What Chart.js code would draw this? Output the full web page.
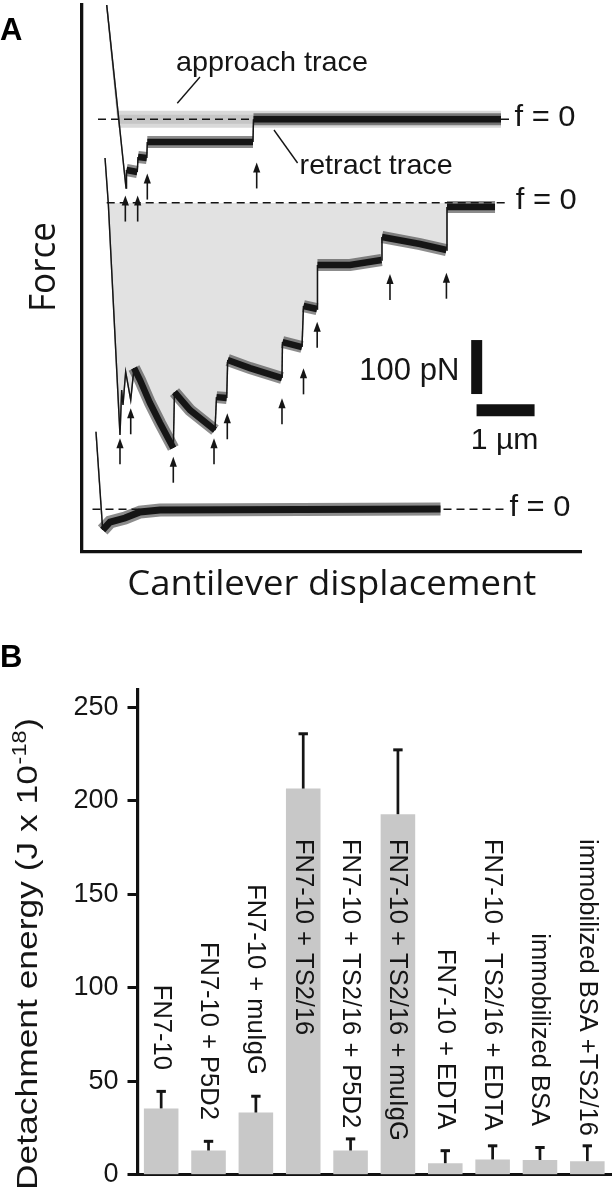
<!DOCTYPE html>
<html>
<head>
<meta charset="utf-8">
<script src="https://cdn.jsdelivr.net/npm/chart.js@4.4.1/dist/chart.umd.min.js"></script>
<style>
  html, body { margin: 0; padding: 0; background: #ffffff; }
  #wrapA { position: absolute; left: 0; top: 0; width: 614px; height: 640px; }
  #wrapB { position: absolute; left: 0; top: 640px; width: 614px; height: 560px; }
</style>
</head>
<body>
<div id="wrapA"><canvas id="chartA"></canvas></div>
<div id="wrapB"><canvas id="chartB"></canvas></div>
<script>
// ================= Panel A data =================
// x: cantilever displacement (µm); F: force (pN) relative to each trace's own f = 0 line
const approachX = [0.426, 0.621, 7.224];
const approachF = [211.7, 0, 0];

const retract1X = [0.426, 0.759, 0.767, 0.953, 0.966, 1.117, 1.126, 2.948, 2.957, 7.224];
const retract1F = [211.7, -127.2, -93.9, -97.6, -69.8, -71.7, -42.0, -42.0, 0, 0];

const retract2X = [0.397, 0.453, 0.655, 0.684, 0.707, 0.753, 0.840, 0.897, 1.000, 1.172, 1.345, 1.574,
                   1.595, 1.862, 2.293, 2.319, 2.495, 2.512, 2.897, 3.448, 3.457, 3.793, 3.819, 4.052,
                   4.060, 4.621, 5.164, 5.172, 5.828, 6.283, 6.293, 7.121];
const retract2F = [82.8, -0.6, -430.2, -346.9, -374.7, -313.5, -365.4, -306.1, -328.4, -371.0, -408.0, -454.3,
                   -350.6, -384.0, -421.1, -360.0, -361.8, -291.3, -306.2, -324.7, -258.0, -267.3, -191.3, -196.9,
                   -115.4, -115.4, -106.1, -63.5, -76.5, -87.6, -8.0, -8.0];

const retract3X = [0.241, 0.357, 0.483, 0.741, 1.000, 1.345, 6.181];
const retract3F = [143.7, -38.3, -23.5, -16.1, -5.0, -1.3, 0.6];

// rupture arrows (x, tip force relative to trace zero)
const arrows1X = [0.747, 0.960, 1.126, 3.012];
const arrows1F = [-141.2, -141.2, -100.5, -79.9];
const arrows2X = [0.655, 0.840, 1.574, 2.276, 2.505, 3.448, 3.819, 4.055, 5.310, 6.283];
const arrows2F = [-436.1, -380.7, -470.4, -436.1, -389.9, -362.2, -306.7, -220.4, -132.2, -129.6];

// f = 0 reference lines (x extent)
const zeroLineStart = [0.276, 0.426, 0.181];
const zeroLineEnd   = [7.362, 7.345, 7.328];

// scale bars: 100 pN and 1 µm
const barPN_X = [6.805, 6.805];
const barPN_Y = [292, 392];
const barUM_X = [6.803, 7.803];
const barUM_Y = [261.9, 261.9];

// ================= Panel B data =================
const categories = [
  'FN7-10', 'FN7-10 + P5D2', 'FN7-10 + muIgG', 'FN7-10 + TS2/16', 'FN7-10 + TS2/16 + P5D2',
  'FN7-10 + TS2/16 + muIgG', 'FN7-10 + EDTA', 'FN7-10 + TS2/16 + EDTA', 'immobilized BSA', 'immobilized BSA +TS2/16'
];
const energy = [35.5, 13.0, 33.3, 206.5, 13.0, 192.8, 6.2, 8.2, 7.9, 7.3];
const energyErr = [9.9, 5.7, 9.5, 30.1, 7.0, 35.2, 7.5, 8.1, 7.5, 9.0];
const yTicksB = [0, 50, 100, 150, 200, 250];

// ================= layout / style constants =================
const TRACE_ZERO = [800.8, 646.3, 78.5];   // where each trace's f = 0 sits on the stacked force axis
const SANS = '"Liberation Sans", Arial, Helvetica, sans-serif';
const HUMAN = '"Open Sans", "Noto Sans", sans-serif';
const INK = '#151515';

function pts(xs, fs, off) { return xs.map((x, i) => ({ x: x, y: off + fs[i] })); }

function drawText(ctx, s, x, y, o) {
  ctx.save();
  ctx.translate(x, y);
  if (o.rot) ctx.rotate(o.rot);
  ctx.font = o.font;
  ctx.textAlign = o.align || 'left';
  ctx.textBaseline = o.baseline || 'alphabetic';
  ctx.fillStyle = o.color || INK;
  if (o.fit) { const w = ctx.measureText(s).width; ctx.scale(o.fit / w, 1); }
  ctx.fillText(s, 0, 0);
  ctx.restore();
}

function thinSteep(wide) {
  return function (c) {
    const dx = Math.abs(c.p1.x - c.p0.x), dy = Math.abs(c.p1.y - c.p0.y);
    return (dy > 12 && dy > 3 * dx) ? 1.4 : wide;
  };
}

function traceDS(xs, fs, off, color, width, order) {
  return {
    data: pts(xs, fs, off),
    borderColor: color,
    borderWidth: width,
    pointRadius: 0,
    tension: 0,
    clip: false,
    fill: false,
    order: order,
    segment: { borderWidth: thinSteep(width) }
  };
}

function dashDS(i) {
  return {
    data: [{ x: zeroLineStart[i], y: TRACE_ZERO[i] }, { x: zeroLineEnd[i], y: TRACE_ZERO[i] }],
    borderColor: INK, borderWidth: 1.6, borderDash: [8, 5],
    pointRadius: 0, fill: false, order: 4, clip: false
  };
}

// ================= Panel A chart =================
const annotA = {
  id: 'annotA',
  afterDatasetsDraw(chart) {
    const ctx = chart.ctx, xs = chart.scales.x, ys = chart.scales.y;
    const X = v => xs.getPixelForValue(v), Y = v => ys.getPixelForValue(v);
    ctx.save();
    ctx.strokeStyle = INK; ctx.fillStyle = INK;
    function arrow(x, f, off) {
      const px = X(x), py = Y(off + f);
      ctx.lineWidth = 1.6;
      ctx.beginPath(); ctx.moveTo(px, py + 6); ctx.lineTo(px, py + 26); ctx.stroke();
      ctx.beginPath(); ctx.moveTo(px, py); ctx.lineTo(px - 3.6, py + 10); ctx.lineTo(px + 3.6, py + 10); ctx.closePath(); ctx.fill();
    }
    arrows1X.forEach((x, i) => arrow(x, arrows1F[i], TRACE_ZERO[0]));
    arrows2X.forEach((x, i) => arrow(x, arrows2F[i], TRACE_ZERO[1]));
    ctx.lineWidth = 1.4;
    ctx.beginPath(); ctx.moveTo(X(2.034), Y(879.2)); ctx.lineTo(X(1.643), Y(830.6)); ctx.stroke();
    ctx.beginPath(); ctx.moveTo(X(3.310), Y(781.0)); ctx.lineTo(X(3.717), Y(719.9)); ctx.stroke();
    ctx.restore();
    drawText(ctx, 'approach trace', X(1.621), Y(890.8), { font: '28.5px ' + SANS, fit: 192 });
    drawText(ctx, 'retract trace', X(3.752), Y(699.0), { font: '28.5px ' + SANS, fit: 153 });
    const fx = [7.457, 7.478, 7.369];
    for (let i = 0; i < 3; i++) {
      drawText(ctx, 'f = 0', X(fx[i]), Y(TRACE_ZERO[i]) - 2, { font: '30px ' + SANS, baseline: 'middle', fit: 61 });
    }
    drawText(ctx, '100 pN', X(6.505), Y(334.1), { font: '31px ' + SANS, align: 'right', baseline: 'middle', fit: 100 });
    drawText(ctx, '1 µm', X(6.702), Y(205), { font: '30px ' + SANS, baseline: 'middle', fit: 67.7 });
    drawText(ctx, 'A', 0, 40, { font: 'bold 31px ' + SANS, color: '#000' });
    drawText(ctx, 'Force', 54.8, 267, { font: '36px ' + HUMAN, rot: -Math.PI / 2, align: 'center', fit: 90 });
    drawText(ctx, 'Cantilever displacement', 331.8, 595, { font: '34px ' + HUMAN, align: 'center', fit: 409 });
  }
};

const HALO = 'rgba(25,25,25,0.5)';
new Chart(document.getElementById('chartA'), {
  type: 'line',
  data: {
    datasets: [
      // gray detachment-work area under the middle retract trace
      { data: pts(retract2X, retract2F, TRACE_ZERO[1]), borderWidth: 0, pointRadius: 0, order: 9, clip: false,
        backgroundColor: '#e2e2e2',
        fill: { target: { value: TRACE_ZERO[1] }, above: 'rgba(0,0,0,0)', below: '#e2e2e2' } },
      traceDS(approachX, approachF, TRACE_ZERO[0], 'rgba(180,180,180,0.5)', 17, 6),
      traceDS(approachX, approachF, TRACE_ZERO[0], '#c6c6c6', 9, 5),
      dashDS(0), dashDS(1), dashDS(2),
      traceDS(retract1X, retract1F, TRACE_ZERO[0], HALO, 12, 2),
      traceDS(retract2X, retract2F, TRACE_ZERO[1], HALO, 12, 2),
      traceDS(retract3X, retract3F, TRACE_ZERO[2], HALO, 13, 2),
      traceDS(retract1X, retract1F, TRACE_ZERO[0], INK, 6.5, 1),
      traceDS(retract2X, retract2F, TRACE_ZERO[1], INK, 6.5, 1),
      traceDS(retract3X, retract3F, TRACE_ZERO[2], INK, 7, 1),
      { data: barPN_X.map((x, i) => ({ x: x, y: barPN_Y[i] })), borderColor: '#111', borderWidth: 11,
        borderCapStyle: 'butt', pointRadius: 0, fill: false, order: 1, clip: false },
      { data: barUM_X.map((x, i) => ({ x: x, y: barUM_Y[i] })), borderColor: '#111', borderWidth: 12,
        borderCapStyle: 'butt', pointRadius: 0, fill: false, order: 1, clip: false }
    ]
  },
  options: {
    responsive: true, maintainAspectRatio: false, animation: false,
    layout: { padding: { left: 82, right: 32.5, top: 5, bottom: 88.3 }, autoPadding: false },
    plugins: { legend: { display: false }, tooltip: { enabled: false }, filler: { drawTime: 'beforeDatasetsDraw' } },
    scales: {
      x: {
        type: 'linear', min: 0, max: 8.612,
        ticks: { display: false },
        grid: { display: true, drawOnChartArea: false, drawTicks: false, color: 'rgba(0,0,0,0)' },
        border: { display: true, width: 3.3, color: '#111' },
        afterFit: s => { s.height = 0; }
      },
      y: {
        type: 'linear', min: 0, max: 1012.5,
        ticks: { display: false },
        grid: { display: true, drawOnChartArea: false, drawTicks: false, color: 'rgba(0,0,0,0)' },
        border: { display: true, width: 3.3, color: '#111' },
        afterFit: s => { s.width = 0; }
      }
    }
  },
  plugins: [annotA]
});

// ================= Panel B chart =================
const annotB = {
  id: 'annotB',
  afterDatasetsDraw(chart) {
    const ctx = chart.ctx, ys = chart.scales.y;
    const meta = chart.getDatasetMeta(0);
    ctx.save();
    ctx.strokeStyle = INK;
    meta.data.forEach((bar, i) => {
      const top = ys.getPixelForValue(energy[i] + energyErr[i]);
      ctx.lineWidth = 2.7;
      ctx.beginPath(); ctx.moveTo(bar.x, bar.y); ctx.lineTo(bar.x, top + 1); ctx.stroke();
      ctx.lineWidth = 3;
      ctx.beginPath(); ctx.moveTo(bar.x - 4.7, top + 1.5); ctx.lineTo(bar.x + 4.7, top + 1.5); ctx.stroke();
    });
    ctx.restore();
    const font = '25.5px ' + SANS;
    const topLimit = chart.chartArea.top + 149;
    meta.data.forEach((bar, i) => {
      ctx.save();
      ctx.font = font;
      const w = ctx.measureText(categories[i]).width;
      const end = ys.getPixelForValue(energy[i] + energyErr[i]) - 20;
      const start = Math.max(topLimit, end - w);
      ctx.translate(bar.x - 7.5, start);
      ctx.rotate(Math.PI / 2);
      ctx.fillStyle = INK; ctx.textAlign = 'left'; ctx.textBaseline = 'alphabetic';
      ctx.fillText(categories[i], 0, 0);
      ctx.restore();
    });
    drawText(ctx, 'B', 0, 26.7, { font: 'bold 31px ' + SANS, color: '#000' });
    ctx.save();
    const f1 = '30px ' + SANS, f2 = '20px ' + SANS;
    const main = 'Detachment energy (J x 10', sup = '-18', tail = ')';
    ctx.font = f1; const w1 = ctx.measureText(main).width, w3 = ctx.measureText(tail).width;
    ctx.font = f2; const w2 = ctx.measureText(sup).width;
    const k = 472 / (w1 + w2 + w3 + 1);
    ctx.translate(36.7, 550);
    ctx.rotate(-Math.PI / 2);
    ctx.scale(k, 1);
    ctx.fillStyle = INK; ctx.textAlign = 'left'; ctx.textBaseline = 'alphabetic';
    ctx.font = f1; ctx.fillText(main, 0, 0);
    ctx.font = f2; ctx.fillText(sup, w1 + 0.5, -11);
    ctx.font = f1; ctx.fillText(tail, w1 + w2 + 1, 0);
    ctx.restore();
  }
};

new Chart(document.getElementById('chartB'), {
  type: 'bar',
  data: {
    labels: categories,
    datasets: [{
      data: energy,
      backgroundColor: '#c8c8c8',
      borderWidth: 0,
      categoryPercentage: 1.0,
      barPercentage: 0.73
    }]
  },
  options: {
    responsive: true, maintainAspectRatio: false, animation: false,
    layout: { padding: { left: 0, right: 3, top: 50, bottom: 6.7 }, autoPadding: false },
    plugins: { legend: { display: false }, tooltip: { enabled: false } },
    scales: {
      x: {
        type: 'category',
        ticks: { display: false },
        grid: { display: true, drawOnChartArea: false, drawTicks: false, color: 'rgba(0,0,0,0)' },
        border: { display: true, width: 3, color: '#111' },
        afterFit: s => { s.height = 0; }
      },
      y: {
        type: 'linear', min: 0, max: 259.2,
        afterBuildTicks: s => { s.ticks = yTicksB.map(v => ({ value: v })); },
        ticks: { color: INK, font: { family: SANS, size: 27 }, padding: 9 },
        grid: { display: true, drawOnChartArea: false, drawTicks: true, tickLength: 10, tickWidth: 3, tickColor: '#111' },
        border: { display: true, width: 3.2, color: '#111' },
        afterFit: s => { s.width = 137.5; }
      }
    }
  },
  plugins: [annotB]
});
</script>
</body>
</html>
